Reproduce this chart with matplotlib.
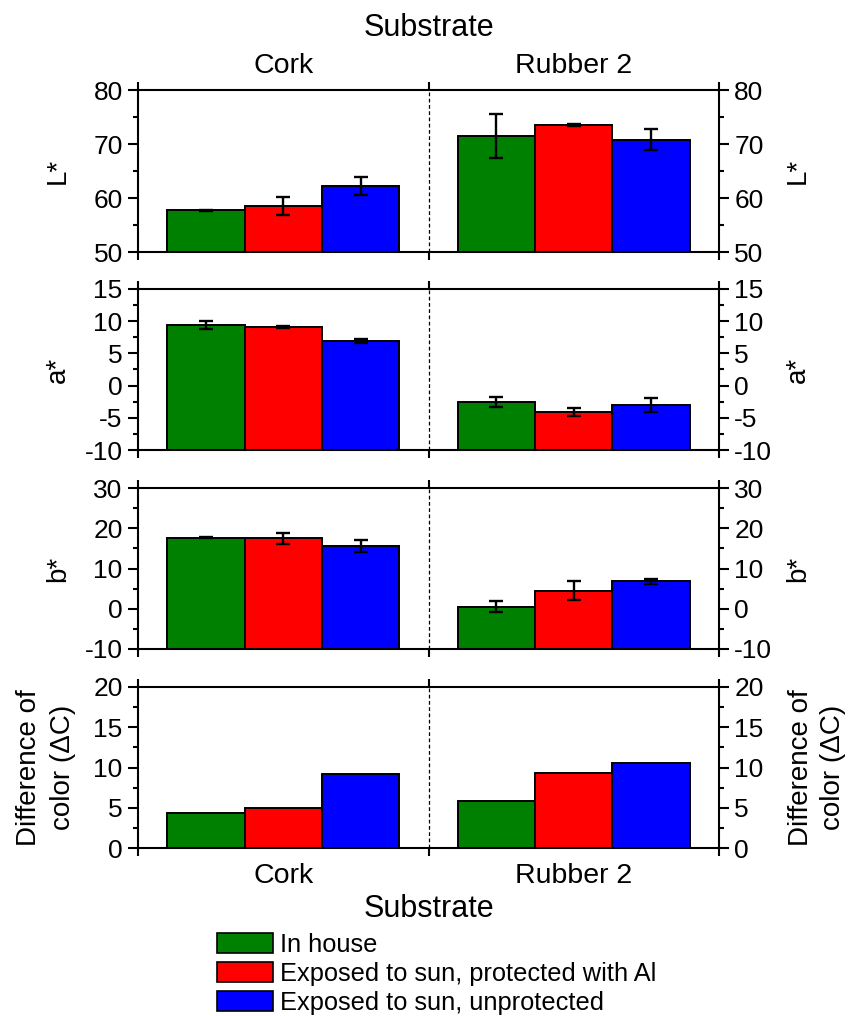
import matplotlib
matplotlib.use("Agg")
import matplotlib.pyplot as plt
import numpy as np
from matplotlib.ticker import MultipleLocator, AutoMinorLocator
from matplotlib.patches import Patch

plt.rcParams['font.family'] = ['Liberation Sans', 'DejaVu Sans']
plt.rcParams['axes.unicode_minus'] = False

substrates = ["Cork", "Rubber 2"]
series = ["In house", "Exposed to sun, protected with Al", "Exposed to sun, unprotected"]
colors = ["#008000", "#ff0000", "#0000ff"]

# values[series][substrate]
L_vals = [[57.7, 71.5], [58.5, 73.5], [62.2, 70.8]]
L_err = [[0.1, 4.0], [1.7, 0.2], [1.6, 1.9]]
a_vals = [[9.45, -2.5], [9.15, -4.1], [6.95, -3.0]]
a_err = [[0.65, 0.8], [0.15, 0.55], [0.35, 1.15]]
b_vals = [[17.7, 0.55], [17.5, 4.5], [15.7, 6.85]]
b_err = [[0.2, 1.3], [1.4, 2.3], [1.5, 0.65]]
dC_vals = [[4.4, 5.9], [5.0, 9.3], [9.15, 10.6]]

panels = [
    ("L*", L_vals, L_err, (50, 80), 10),
    ("a*", a_vals, a_err, (-10, 15), 5),
    ("b*", b_vals, b_err, (-10, 30), 10),
    ("Difference of\ncolor (\u0394C)", dC_vals, None, (0, 20), 5),
]

W, H = 848, 1016
fig = plt.figure(figsize=(W / 100, H / 100), dpi=100)

left_px, right_px = 138, 719
panel_px = [(90, 252), (289, 450), (488, 649), (687, 848)]

x = np.arange(1, len(substrates) + 1)
bw = 0.8 / 3
offsets = [-bw, 0, bw]

for (label, vals, errs, ylim, major), (top, bot) in zip(panels, panel_px):
    ax = fig.add_axes([left_px / W, 1 - bot / H, (right_px - left_px) / W, (bot - top) / H])
    base = ylim[0]
    for i in range(3):
        v = np.asarray(vals[i], dtype=float)
        ax.bar(x + offsets[i], v - base, width=bw, bottom=base,
               color=colors[i], edgecolor="black", linewidth=1.4, zorder=2)
        if errs is not None:
            ax.errorbar(x + offsets[i], v, yerr=errs[i], fmt="none", ecolor="black",
                        elinewidth=1.7, capsize=5, capthick=1.7, zorder=3)
    ax.set_xlim(0.5, 2.5)
    ax.set_ylim(*ylim)
    ax.axvline(1.5, color="black", lw=0.9, ls=(0, (3, 2)), zorder=1)
    ax.yaxis.set_major_locator(MultipleLocator(major))
    ax.yaxis.set_minor_locator(AutoMinorLocator(2))
    ax.set_xticks([0.5, 1.5, 2.5])
    ax.set_xticklabels([])
    ax.tick_params(axis="x", which="major", direction="out", top=True, bottom=True,
                   length=6, width=1.5)
    ax.tick_params(axis="y", which="major", direction="out", left=True, right=True,
                   labelleft=True, labelright=True, length=7, width=1.5,
                   labelsize=19, pad=4)
    ax.tick_params(axis="y", which="minor", direction="out", left=True, right=True,
                   length=3.8, width=1.5)
    for sp in ax.spines.values():
        sp.set_linewidth(1.5)
    yc = 1 - (top + bot) / 2 / H
    if "\n" in label:
        fig.text(46 / W, yc, label, rotation=90, ha="center", va="center",
                 fontsize=20, linespacing=1.35, multialignment="center")
        fig.text(817 / W, yc, label, rotation=90, ha="center", va="center",
                 fontsize=20, linespacing=1.35, multialignment="center")
    else:
        fig.text(58 / W, yc, label, rotation=90, ha="center", va="center", fontsize=20)
        fig.text(798 / W, yc, label, rotation=90, ha="center", va="center", fontsize=20)

# category labels top and bottom
xc = [(left_px + (right_px - left_px) * (xi - 0.5) / 2.0) / W for xi in x]
for xi, name in zip(xc, substrates):
    fig.text(xi, 1 - 73 / H, name, ha="center", va="baseline", fontsize=20.5)
    fig.text(xi, 1 - 883 / H, name, ha="center", va="baseline", fontsize=20.5)
xm = (left_px + right_px) / 2 / W
fig.text(xm, 1 - 36 / H, "Substrate", ha="center", va="baseline", fontsize=22)
fig.text(xm, 1 - 917 / H, "Substrate", ha="center", va="baseline", fontsize=22)

handles = [Patch(facecolor=c, edgecolor="black", linewidth=1.2) for c in colors]
fig.legend(handles, series, loc="upper left", bbox_to_anchor=(209 / W, 1 - 925 / H),
           frameon=False, fontsize=18.3, handlelength=2.2, handleheight=0.8,
           handletextpad=0.3, labelspacing=0.2, borderaxespad=0, borderpad=0.3)

fig.savefig("out.png", dpi=100)
